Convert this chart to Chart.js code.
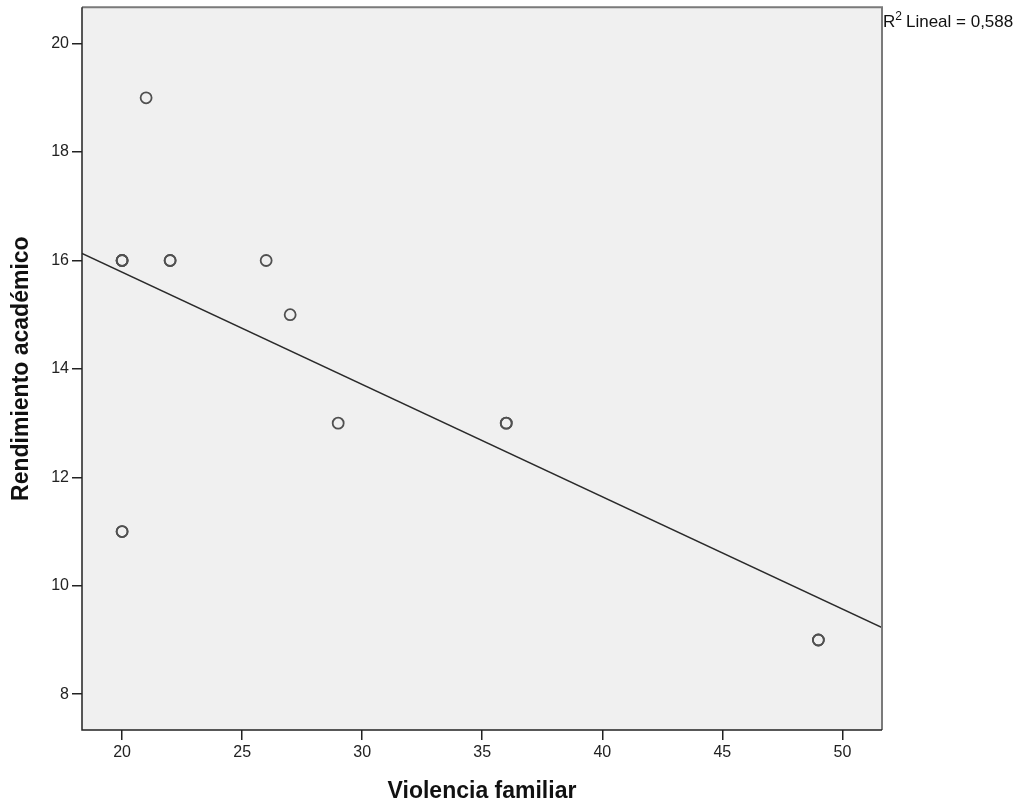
<!DOCTYPE html>
<html>
<head>
<meta charset="utf-8">
<script src="https://cdn.jsdelivr.net/npm/chart.js@4.4.0/dist/chart.umd.min.js"></script>
<style>
html,body{margin:0;padding:0;background:#fff;}
#wrap{width:1024px;height:805px;position:relative;}
</style>
</head>
<body>
<div id="wrap"><canvas id="c" width="1024" height="805"></canvas></div>
<script>
// Data (duplicates = overlapping cases)
const violencia = [20, 20, 20, 21, 22, 22, 26, 27, 29, 36, 36, 20, 20, 49, 49];
const rendimiento = [16, 16, 16, 19, 16, 16, 16, 15, 13, 13, 13, 11, 11, 9, 9];
// Fit line endpoints read at the plot edges
const fitX = [18.33, 51.65];
const fitY = [16.13, 9.23];
const xTicks = [20, 25, 30, 35, 40, 45, 50];
const yTicks = [8, 10, 12, 14, 16, 18, 20];
const r2Text = "Lineal = 0,588";

const points = violencia.map((v, i) => ({x: v, y: rendimiento[i]}));
const fitLine = fitX.map((v, i) => ({x: v, y: fitY[i]}));

const FONT = '"Liberation Sans", Arial, sans-serif';

const bgPlugin = {
  id: 'bg',
  beforeDraw(chart) {
    const {ctx, chartArea: a} = chart;
    ctx.save();
    ctx.fillStyle = '#f0f0f0';
    ctx.fillRect(a.left, a.top, a.right - a.left, a.bottom - a.top);
    ctx.restore();
  },
  afterDraw(chart) {
    const {ctx, chartArea: a} = chart;
    ctx.save();
    ctx.strokeStyle = '#7a7a7a';
    ctx.lineWidth = 2;
    ctx.beginPath();
    ctx.moveTo(a.left, a.top);
    ctx.lineTo(a.right, a.top);
    ctx.lineTo(a.right, a.bottom);
    ctx.stroke();
    ctx.strokeStyle = '#222';
    ctx.lineWidth = 1.5;
    ctx.beginPath();
    ctx.moveTo(a.left, a.top);
    ctx.lineTo(a.left, a.bottom);
    ctx.lineTo(a.right, a.bottom);
    ctx.stroke();
    // R2 label
    ctx.fillStyle = '#111';
    ctx.textBaseline = 'alphabetic';
    ctx.font = '17px ' + FONT;
    let x = a.right + 1;
    const y = 27;
    ctx.fillText('R', x, y);
    x += ctx.measureText('R').width;
    ctx.font = '12px ' + FONT;
    ctx.fillText('2', x, y - 7);
    x += ctx.measureText('2').width + 4;
    ctx.font = '17px ' + FONT;
    ctx.fillText(r2Text, x, y);
    ctx.restore();
  }
};

function noPad(s) {
  s.paddingTop = 0; s.paddingBottom = 0; s.paddingLeft = 0; s.paddingRight = 0;
}

new Chart(document.getElementById('c'), {
  type: 'scatter',
  data: {
    datasets: [
      {
        data: points,
        pointStyle: 'circle',
        pointRadius: 5.5,
        pointHoverRadius: 5.5,
        borderColor: '#505050',
        backgroundColor: 'rgba(0,0,0,0)',
        borderWidth: 1.8,
        order: 1
      },
      {
        data: fitLine,
        showLine: true,
        pointRadius: 0,
        borderColor: '#2a2a2a',
        borderWidth: 1.5,
        fill: false,
        order: 2
      }
    ]
  },
  options: {
    responsive: false,
    animation: false,
    devicePixelRatio: 1,
    plugins: {legend: {display: false}, tooltip: {enabled: false}},
    layout: {padding: {top: 7, right: 142, left: 0, bottom: 0}},
    scales: {
      x: {
        type: 'linear',
        min: 18.33,
        max: 51.65,
        afterBuildTicks(s) { s.ticks = xTicks.map(v => ({value: v})); },
        afterFit(s) { s.height = 75; noPad(s); },
        grid: {display: true, drawOnChartArea: false, drawTicks: true, tickLength: 10, color: '#222', lineWidth: 1.5},
        border: {display: false},
        ticks: {color: '#222', padding: 3, font: {family: FONT, size: 16}},
        title: {display: true, text: 'Violencia familiar', color: '#111', padding: {top: 0, bottom: 0},
          font: {family: FONT, size: 23, weight: 'bold'}}
      },
      y: {
        type: 'linear',
        min: 7.34,
        max: 20.67,
        afterBuildTicks(s) { s.ticks = yTicks.map(v => ({value: v})); },
        afterFit(s) { s.width = 82; noPad(s); },
        grid: {display: true, drawOnChartArea: false, drawTicks: true, tickLength: 10, color: '#222', lineWidth: 1.5},
        border: {display: false},
        ticks: {color: '#222', padding: 3, font: {family: FONT, size: 16}},
        title: {display: true, text: 'Rendimiento académico', color: '#111', padding: {top: 8, bottom: 0},
          font: {family: FONT, size: 23, weight: 'bold'}}
      }
    }
  },
  plugins: [bgPlugin]
});
</script>
</body>
</html>
